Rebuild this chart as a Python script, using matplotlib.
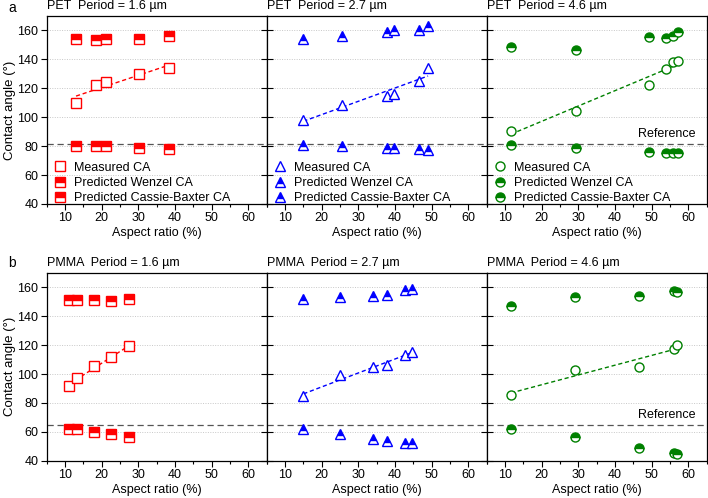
import matplotlib
matplotlib.use("Agg")
import matplotlib.pyplot as plt
import numpy as np

plt.rcParams['font.family'] = ['Liberation Sans', 'DejaVu Sans']
plt.rcParams['font.size'] = 9

# ---- data ----
# PET
pet16_ar = [13.0, 18.4, 21.2, 30.3, 38.4]
pet16_meas = [109.7, 122.5, 124.7, 129.8, 134.0]
pet16_cb = [154.3, 153.1, 153.9, 153.9, 156.3]
pet16_wz = [80.4, 80.4, 80.2, 79.0, 78.1]

pet27_ar = [15.0, 25.4, 37.9, 39.7, 46.5, 49.0]
pet27_meas = [98.2, 108.6, 114.8, 116.2, 125.2, 134.0]
pet27_cb = [154.0, 156.3, 158.6, 160.5, 160.5, 162.8]
pet27_wz = [80.9, 80.2, 78.6, 78.6, 77.9, 77.4]

pet46_ar = [11.6, 29.4, 49.2, 53.9, 55.9, 57.1]
pet46_meas = [90.8, 104.4, 122.6, 133.3, 138.3, 139.0]
pet46_cb = [148.3, 146.7, 155.8, 154.7, 156.5, 158.9]
pet46_wz = [80.9, 78.4, 76.3, 75.6, 75.6, 75.6]

# PMMA
pmma16_ar = [11.2, 13.2, 18.0, 22.5, 27.5]
pmma16_meas = [91.9, 97.2, 105.3, 111.6, 119.2]
pmma16_cb = [151.0, 151.2, 151.2, 150.8, 151.7]
pmma16_wz = [62.1, 61.7, 60.1, 58.5, 56.6]

pmma27_ar = [15.0, 25.0, 33.9, 37.9, 42.7, 44.6]
pmma27_meas = [84.6, 99.1, 104.6, 106.4, 113.4, 115.0]
pmma27_cb = [152.1, 153.3, 154.0, 154.9, 158.1, 159.1]
pmma27_wz = [61.7, 58.7, 55.2, 53.8, 52.3, 52.0]

pmma46_ar = [11.6, 29.1, 46.5, 56.2, 56.9]
pmma46_meas = [85.7, 102.8, 105.1, 117.3, 120.1]
pmma46_cb = [146.9, 153.3, 154.2, 157.2, 156.5]
pmma46_wz = [62.1, 56.6, 48.9, 45.2, 44.9]

pet_ref = 81.4
pmma_ref = 64.5
ar_err = 0.6
ca_err = 1.2

periods = ["1.6", "2.7", "4.6"]
colors = ["#ff0000", "#0000ff", "#008000"]
markers = ["s", "^", "o"]

rows = [
    ("PET", pet_ref, [(pet16_ar, pet16_meas, pet16_cb, pet16_wz),
                      (pet27_ar, pet27_meas, pet27_cb, pet27_wz),
                      (pet46_ar, pet46_meas, pet46_cb, pet46_wz)]),
    ("PMMA", pmma_ref, [(pmma16_ar, pmma16_meas, pmma16_cb, pmma16_wz),
                        (pmma27_ar, pmma27_meas, pmma27_cb, pmma27_wz),
                        (pmma46_ar, pmma46_meas, pmma46_cb, pmma46_wz)]),
]

fig = plt.figure(figsize=(7.08, 4.98), dpi=100)

W, H = 708.0, 498.0
left0 = 46.7
pw = 220.0
row_px = [(16.0, 204.0), (273.0, 460.7)]

for r, (mat, ref, panels) in enumerate(rows):
    top, bot = row_px[r]
    for c, (ar, meas, cb, wz) in enumerate(panels):
        ax = fig.add_axes([(left0 + c * pw) / W, 1 - bot / H, pw / W, (bot - top) / H])
        col = colors[c]
        mk = markers[c]
        ms = 6.5 if mk != "^" else 7

        ax.set_xlim(5, 65)
        ax.set_ylim(40, 170)
        ax.set_xticks(range(10, 61, 10))
        ax.set_xticks(range(5, 66, 10), minor=True)
        ax.set_yticks(range(40, 161, 20))
        ax.yaxis.grid(True, linestyle=(0, (1, 1.5)), color="#c8c8c8", linewidth=0.7)
        ax.set_axisbelow(True)

        ax.axhline(ref, color="#555555", linestyle=(0, (5, 3)), linewidth=0.9, zorder=1)

        # linear fit of measured CA
        k, b = np.polyfit(ar, meas, 1)
        xs = np.array([min(ar), max(ar)])
        ax.plot(xs, k * xs + b, linestyle=(0, (3, 2)), color=col, linewidth=1.0, zorder=2)

        h_meas = ax.errorbar(ar, meas, xerr=ar_err, yerr=ca_err, fmt=mk, ms=ms,
                             mfc="white", mec=col, mew=1.0, ecolor=col, elinewidth=0.7,
                             capsize=0, label="Measured CA", zorder=3)
        h_wz, = ax.plot(ar, wz, mk, ms=ms, color=col, fillstyle="top", mfc=col,
                        mfcalt="white", mec=col, mew=1.0, linestyle="none",
                        label="Predicted Wenzel CA", zorder=3)
        h_cb, = ax.plot(ar, cb, mk, ms=ms, color=col, fillstyle="top", mfc=col,
                        mfcalt="white", mec=col, mew=1.0, linestyle="none",
                        label="Predicted Cassie-Baxter CA", zorder=3)

        ax.text(0.0, 1.02, f"{mat}  Period = {periods[c]} µm",
                transform=ax.transAxes, ha="left", va="bottom", fontsize=9)
        ax.set_xlabel("Aspect ratio (%)", fontsize=9, labelpad=2)

        ax.tick_params(axis="x", which="major", direction="out", length=4, width=0.8, pad=2)
        ax.tick_params(axis="x", which="minor", direction="out", length=2, width=0.8)
        if c == 0:
            ax.set_ylabel("Contact angle (°)", fontsize=9.5)
            ax.yaxis.set_label_coords(-0.14, 0.5)
            ax.tick_params(axis="y", direction="out", length=4, width=0.8, pad=2)
        else:
            ax.tick_params(axis="y", direction="inout", length=8, width=0.8, labelleft=False)

        for s in ax.spines.values():
            s.set_linewidth(0.9)

        if c == 2:
            ax.text(62, ref + 7.2, "Reference", ha="right", va="center", fontsize=9)

        if r == 0:
            ax.legend([h_meas[0], h_wz, h_cb],
                      ["Measured CA", "Predicted Wenzel CA", "Predicted Cassie-Baxter CA"],
                      loc="lower left", bbox_to_anchor=(0.0, -0.04), frameon=False,
                      fontsize=9, handlelength=1.0, handletextpad=0.6,
                      labelspacing=0.25, borderpad=0.3, borderaxespad=0.3)

fig.text(8 / W, 1 - 8 / H, "a", fontsize=10, ha="left", va="center")
fig.text(8 / W, 1 - 263 / H, "b", fontsize=10, ha="left", va="center")

fig.savefig("out.png", dpi=100)
